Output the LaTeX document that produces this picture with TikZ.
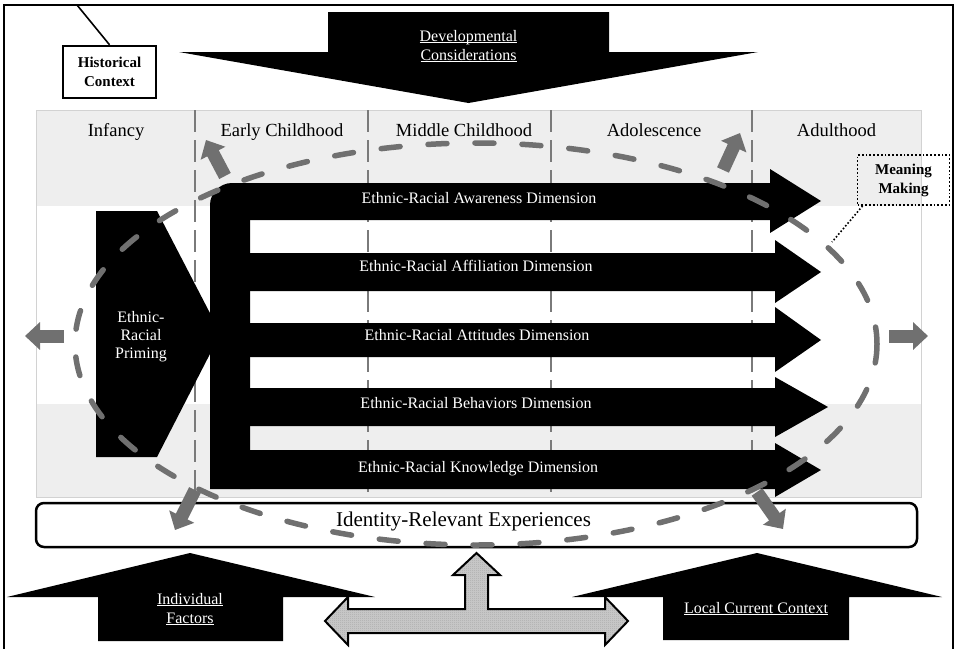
\documentclass[tikz,border=0pt]{standalone}
\usepackage{fontspec}
\setmainfont{Liberation Serif}
\usetikzlibrary{arrows.meta,patterns.meta}
\definecolor{band}{HTML}{EEEEEE}
\definecolor{dashgray}{HTML}{707070}
\definecolor{vgray}{HTML}{7A7A7A}
\newcommand\ulw[1]{\underline{\smash{#1}}}
\tikzdeclarepattern{name=finecheck,type=uncolored,bottom left={(0pt,0pt)},top right={(2pt,2pt)},tile size={(2pt,2pt)},code={\fill (0pt,0pt) rectangle (1pt,1pt); \fill (1pt,1pt) rectangle (2pt,2pt);}}
\begin{document}
\begin{tikzpicture}[x=1pt,y=-1pt,
  heading/.style={anchor=base,font=\fontsize{18.5}{20}\selectfont},
  dimtext/.style={anchor=base,text=white,font=\fontsize{16}{18}\selectfont},
  wlabel/.style={anchor=base,text=white,align=center,font=\fontsize{16}{19}\selectfont},
  boldbox/.style={align=center,font=\bfseries\fontsize{15}{19}\selectfont,inner sep=0pt},
  garrow/.style={draw=dashgray,line width=13pt,-{Triangle[width=27pt,length=15pt]}},
  vdash/.style={vgray,line width=1.6pt,dash pattern=on 22pt off 8pt}]
\useasboundingbox (0,0) rectangle (955,648);
% outer frame
\draw[line width=2pt] (4,700) -- (4,5) -- (953,5) -- (953,700);
% bands
\fill[band] (36,110) rectangle (921,206);
\fill[band] (36,404) rectangle (921,497);
\draw[gray!35,line width=0.8pt] (36,110) rectangle (921,497);
% vertical dashed lines
\foreach \x in {195,368,551,752} \draw[vdash] (\x,110) -- (\x,497);
% headings
\node[heading] (h1) at (116,136) {Infancy};
\node[heading] (h2) at (282,136) {Early Childhood};
\node[heading] (h3) at (464,136) {Middle Childhood};
\node[heading] (h4) at (654,136) {Adolescence};
\node[heading] (h5) at (836.5,136) {Adulthood};
% historical context
\node[boldbox,draw,line width=2.5pt,minimum width=93,minimum height=52] (hist) at (109.5,72) {Historical\\Context};
\coordinate (histtop) at (77,5);
\draw[line width=1.6pt] (histtop) -- (hist.north);
% developmental arrow
\fill (328,12) -- (609,12) -- (609,52) -- (758,52) -- (468.5,103) -- (179,52) -- (328,52) -- cycle;
\node[wlabel] (dev) at (468.5,60) {\ulw{Developmental}\\\ulw{Considerations}};
% spine
\fill (210,489) -- (210,205) .. controls (210,193) and (220,183) .. (232,183) -- (250,183) -- (250,489) -- cycle;
% bars
\fill (240,183) -- (770,183) -- (770,169) -- (821,201) -- (770,233) -- (770,220) -- (240,220) -- cycle;
\fill (240,253) -- (775,253) -- (775,240) -- (821,272) -- (775,303) -- (775,291) -- (240,291) -- cycle;
\fill (240,323) -- (775,323) -- (775,307) -- (821,340) -- (775,372) -- (775,357) -- (240,357) -- cycle;
\fill (240,388) -- (775,388) -- (775,377) -- (828,407) -- (775,437) -- (775,426) -- (240,426) -- cycle;
\fill (240,450) -- (775,450) -- (775,443) -- (821,470) -- (775,497) -- (775,489) -- (240,489) -- cycle;
\node[dimtext] (d1) at (479,203) {Ethnic-Racial Awareness Dimension};
\node[dimtext] (d2) at (476,271) {Ethnic-Racial Affiliation Dimension};
\node[dimtext] (d3) at (477,340) {Ethnic-Racial Attitudes Dimension};
\node[dimtext] (d4) at (476,408) {Ethnic-Racial Behaviors Dimension};
\node[dimtext] (d5) at (478,472) {Ethnic-Racial Knowledge Dimension};
% priming
\fill (96,211) -- (157,211) -- (212,317) -- (212,350) -- (157,457) -- (96,457) -- cycle;
\node[wlabel,font=\fontsize{16}{18}\selectfont] (prim) at (141,358) {Ethnic-\\Racial\\Priming};
% identity relevant experiences
\draw[line width=2.5pt,rounded corners=8pt] (36,503) rectangle (917,547);
\node[anchor=base,font=\fontsize{21}{24}\selectfont] (ire) at (463.5,526) {Identity-Relevant Experiences};
% individual factors
\fill (98,641) -- (98,597) -- (7,597) -- (190,553) -- (375,597) -- (283,597) -- (283,641) -- cycle;
\node[wlabel] (ind) at (190,623) {\ulw{Individual}\\\ulw{Factors}};
% local current context
\fill (663,640) -- (663,597) -- (572,597) -- (757,553) -- (942,597) -- (849,597) -- (849,640) -- cycle;
\node[wlabel] (loc) at (756,613) {\ulw{Local Current Context}};
% T arrow
\path[fill=gray!40] (476.5,553) -- (500,575) -- (488,575) -- (488,609) -- (605,609) -- (605,597) -- (628,621) -- (605,645) -- (605,633) -- (348,633) -- (348,645) -- (325,621) -- (348,597) -- (348,609) -- (465,609) -- (465,575) -- (453,575) -- cycle;
\path[pattern=finecheck,pattern color=gray!75] (476.5,553) -- (500,575) -- (488,575) -- (488,609) -- (605,609) -- (605,597) -- (628,621) -- (605,645) -- (605,633) -- (348,633) -- (348,645) -- (325,621) -- (348,597) -- (348,609) -- (465,609) -- (465,575) -- (453,575) -- cycle;
\draw[line width=2pt,line join=miter] (476.5,553) -- (500,575) -- (488,575) -- (488,609) -- (605,609) -- (605,597) -- (628,621) -- (605,645) -- (605,633) -- (348,633) -- (348,645) -- (325,621) -- (348,597) -- (348,609) -- (465,609) -- (465,575) -- (453,575) -- cycle;
% meaning making
\node[boldbox,draw,dotted,line width=1.8pt,minimum width=92,minimum height=50] (mm) at (903.5,180) {Meaning\\Making};
\coordinate (mmend) at (832,242);
\draw[dotted,line width=1.6pt] ([xshift=6pt]mm.south west) -- (mmend);
% dashed ellipse
\draw[dashgray,line width=5.5pt,line cap=round,dash pattern=on 19pt off 28pt] (476,344) ellipse [x radius=401, y radius=201];
% gray arrows
\coordinate (a1s) at (225,176); \coordinate (a1e) at (206,140);
\coordinate (a2s) at (723,170); \coordinate (a2e) at (740,133);
\coordinate (a3s) at (64,336); \coordinate (a3e) at (25,336);
\coordinate (a4s) at (889,336); \coordinate (a4e) at (928,336);
\coordinate (a5s) at (195,490); \coordinate (a5e) at (175,530);
\coordinate (a6s) at (757,492); \coordinate (a6e) at (783,529);
\draw[garrow] (a1s) -- (a1e);
\draw[garrow] (a2s) -- (a2e);
\draw[garrow] (a3s) -- (a3e);
\draw[garrow] (a4s) -- (a4e);
\draw[garrow] (a5s) -- (a5e);
\draw[garrow] (a6s) -- (a6e);
\end{tikzpicture}
\end{document}
